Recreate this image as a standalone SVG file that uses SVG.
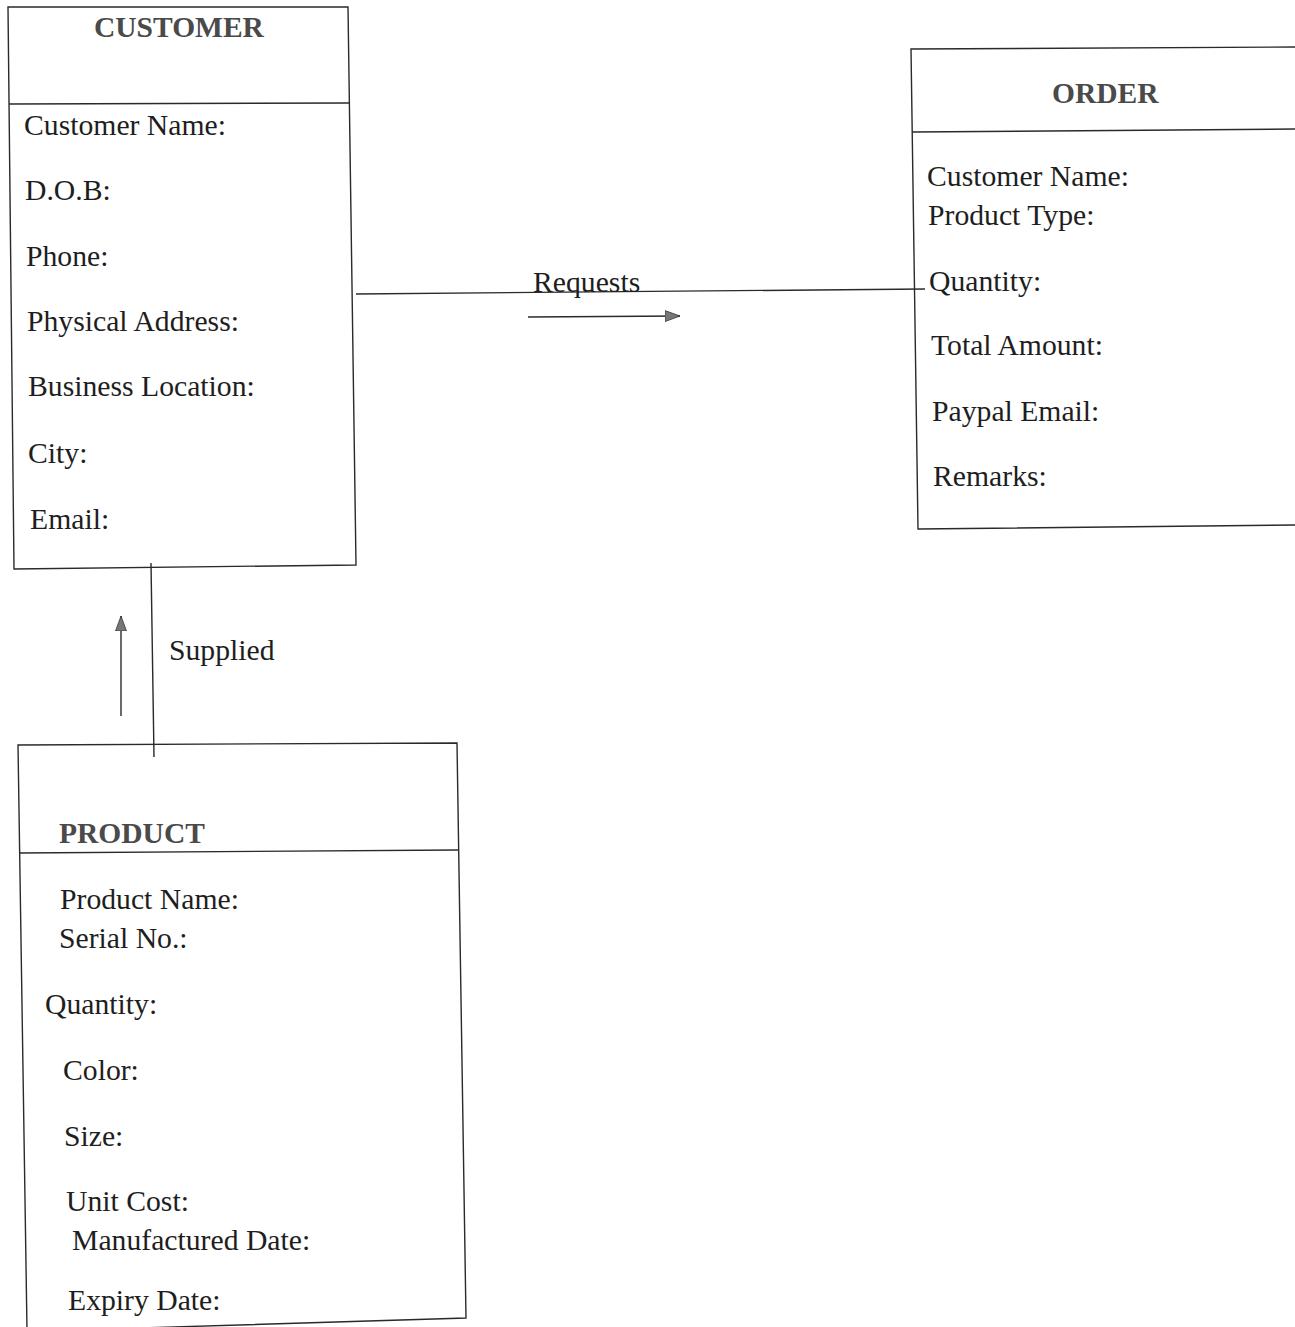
<svg xmlns="http://www.w3.org/2000/svg" width="1295" height="1327" viewBox="0 0 1295 1327">
<style>
.box{fill:none;stroke:#2a2a2a;stroke-width:1.4}
.ln{fill:none;stroke:#2a2a2a;stroke-width:1.4}
.t{font-family:"Liberation Serif","Times New Roman",serif;font-size:29.7px;fill:#1e1e1e}
.h{font-family:"Liberation Serif","Times New Roman",serif;font-size:29.5px;font-weight:bold;fill:#4a4a4a}
</style>
<defs>
<marker id="ah" markerWidth="16" markerHeight="12" refX="15" refY="6" orient="auto" markerUnits="userSpaceOnUse">
<path d="M0,0.5 L15,6 L0,11.5 Z" fill="#777" stroke="#333" stroke-width="0.8"/>
</marker>
</defs>
<rect width="1295" height="1327" fill="#fff"/>
<g id="connectors">
<line class="ln" x1="356" y1="294" x2="925" y2="289"/>
<line class="ln" x1="528" y1="317" x2="680" y2="316" marker-end="url(#ah)"/>
<line class="ln" x1="151" y1="563" x2="154" y2="757"/>
<line class="ln" x1="121" y1="716" x2="121" y2="616" marker-end="url(#ah)"/>
<text class="t" x="533" y="292">Requests</text>
<text class="t" x="169" y="660">Supplied</text>
</g>
<g id="customer">
<path class="box" d="M8,7 L348,7 L356,565 L14,569 Z"/>
<line class="ln" x1="9" y1="104" x2="349" y2="103"/>
<text class="h" x="94" y="37">CUSTOMER</text>
<text class="t" x="24" y="135">Customer Name:</text>
<text class="t" x="25" y="200">D.O.B:</text>
<text class="t" x="26" y="266">Phone:</text>
<text class="t" x="27" y="331">Physical Address:</text>
<text class="t" x="28" y="396">Business Location:</text>
<text class="t" x="28" y="463">City:</text>
<text class="t" x="30" y="529">Email:</text>
</g>
<g id="order">
<path class="box" d="M1300,47 L911,49 L918,529 L1300,525"/>
<line class="ln" x1="912" y1="132" x2="1300" y2="129"/>
<text class="h" x="1052" y="103">ORDER</text>
<text class="t" x="927" y="186">Customer Name:</text>
<text class="t" x="928" y="225">Product Type:</text>
<text class="t" x="929" y="291">Quantity:</text>
<text class="t" x="931" y="355">Total Amount:</text>
<text class="t" x="932" y="421">Paypal Email:</text>
<text class="t" x="933" y="486">Remarks:</text>
</g>
<g id="product">
<path class="box" d="M27,1330 L18,745 L457,743 L466,1318 L140,1328"/>
<line class="ln" x1="19" y1="853" x2="458" y2="850"/>
<text class="h" x="59" y="843">PRODUCT</text>
<text class="t" x="60" y="909">Product Name:</text>
<text class="t" x="59" y="948">Serial No.:</text>
<text class="t" x="45" y="1014">Quantity:</text>
<text class="t" x="63" y="1080">Color:</text>
<text class="t" x="64" y="1146">Size:</text>
<text class="t" x="66" y="1211">Unit Cost:</text>
<text class="t" x="72" y="1250">Manufactured Date:</text>
<text class="t" x="68" y="1310">Expiry Date:</text>
</g>
</svg>
